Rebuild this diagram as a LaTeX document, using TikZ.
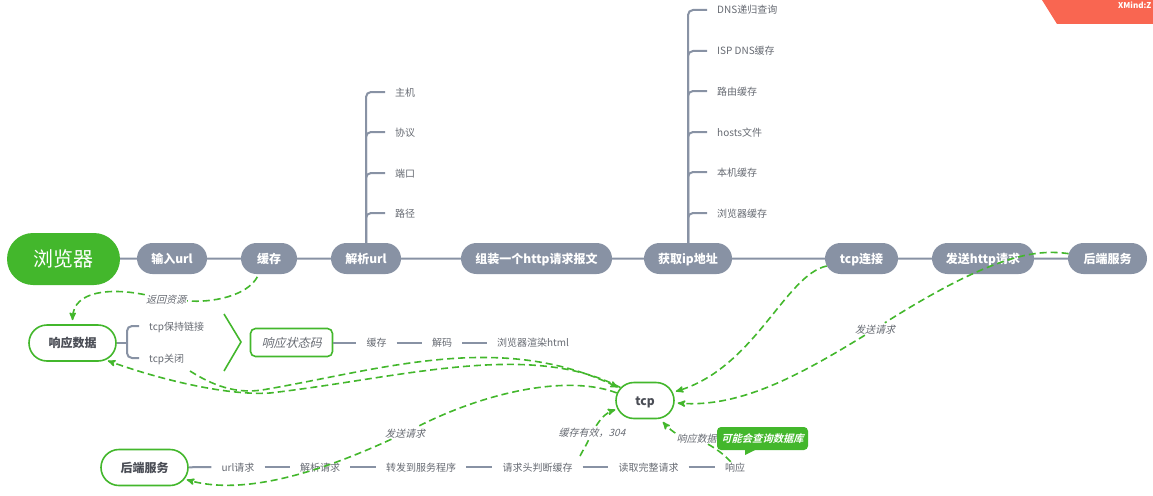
\documentclass[tikz,border=0pt]{standalone}
\usepackage{fontspec}
\setmainfont[AutoFakeSlant=0.25]{Noto Sans CJK SC}
\newfontfamily\notefont[UprightFont=* Bold,FakeSlant=0.25]{Noto Sans CJK SC}
\usetikzlibrary{arrows,positioning,shapes.misc}
\definecolor{leafgreen}{HTML}{43B72C}
\definecolor{slate}{HTML}{8892A4}
\definecolor{inktext}{HTML}{666A72}
\definecolor{darktext}{HTML}{4A4D55}
\definecolor{corner}{HTML}{F96651}
\tikzset{
mapsheet/.style={x=1pt,y=-1pt,>=stealth'},
rootnode/.style={rounded rectangle,fill=leafgreen,text=white,inner sep=0pt,
    minimum width=113pt,minimum height=52pt,font=\fontsize{20}{24}\selectfont},
mainnode/.style={rounded rectangle,fill=slate,text=white,inner sep=0pt,
    minimum height=31pt,text height=9pt,text depth=0pt,font=\bfseries\fontsize{12}{14}\selectfont},
outlined/.style={rounded rectangle,draw=leafgreen,line width=1.6pt,fill=white,text=darktext,
    inner sep=0pt,minimum height=36pt,text height=9pt,text depth=0pt,font=\bfseries\fontsize{12}{14}\selectfont},
statusbox/.style={rectangle,rounded corners=5pt,draw=leafgreen,line width=1.6pt,text=inktext,
    inner sep=0pt,minimum width=82pt,minimum height=28pt,text height=9pt,text depth=0pt,
    font=\itshape\fontsize{12}{14}\selectfont},
leaf/.style={text=inktext,inner xsep=10pt,inner ysep=0pt,text height=9pt,text depth=1pt,
    font=\fontsize{10}{12}\selectfont},
flowtext/.style={text=inktext,inner sep=1pt,text height=9pt,text depth=1pt,
    font=\itshape\fontsize{10}{12}\selectfont},
noteballoon/.style={rectangle,rounded corners=4pt,
    fill=leafgreen,text=white,inner sep=0pt,minimum width=91pt,minimum height=23pt,
    font=\notefont\fontsize{10.3}{12}\selectfont},
stem/.style={draw=slate,line width=2pt},
branch/.style={stem,rounded corners=5pt},
flow/.style={draw=leafgreen,line width=1.6pt,dash pattern=on 7pt off 4pt,shorten >=2pt},
}
\begin{document}
\begin{tikzpicture}[mapsheet]
    \useasboundingbox (0,0) rectangle (1153,495);

    \fill[corner] (1042,0) -- (1057,24) -- (1153,24) -- (1153,0) -- cycle;
    \node[text=white,inner sep=0pt,anchor=west,font=\bfseries\fontsize{8}{10}\selectfont] (brand) at (1118,5) {XMind:Z};

    \node[rootnode] (root) at (63.5,259) {浏览器};
    \node[mainnode,minimum width=70pt] (input) at (172,258.5) {输入url};
    \node[mainnode,minimum width=56pt] (cache) at (269,258.5) {缓存};
    \node[mainnode,minimum width=70pt] (parse) at (366,258.5) {解析url};
    \node[mainnode,minimum width=151pt] (build) at (536.5,258.5) {组装一个http请求报文};
    \node[mainnode,minimum width=88pt] (getip) at (688,258.5) {获取ip地址};
    \node[mainnode,minimum width=73pt] (tcplink) at (861.5,258.5) {tcp连接};
    \node[mainnode,minimum width=102pt] (sendhttp) at (983,258.5) {发送http请求};
    \node[mainnode,minimum width=79pt] (backend) at (1107.5,258.5) {后端服务};

    \node[leaf,anchor=west] (host) at (385,92) {主机};
    \node[leaf,anchor=west] (proto) at (385,132) {协议};
    \node[leaf,anchor=west] (port) at (385,173) {端口};
    \node[leaf,anchor=west] (urlpath) at (385,213) {路径};

    \node[leaf,anchor=west] (dns) at (707,10) {DNS递归查询};
    \node[leaf,anchor=west] (isp) at (707,51) {ISP DNS缓存};
    \node[leaf,anchor=west] (router) at (707,91) {路由缓存};
    \node[leaf,anchor=west] (hosts) at (707,132) {hosts文件};
    \node[leaf,anchor=west] (local) at (707,172) {本机缓存};
    \node[leaf,anchor=west] (browser) at (707,213) {浏览器缓存};

    \node[outlined,minimum width=87pt] (reply) at (72.5,343) {响应数据};
    \coordinate (fork) at (127,343);
    \node[leaf,anchor=west] (keep) at (139,326) {tcp保持链接};
    \node[leaf,anchor=west] (close) at (139,358) {tcp关闭};
    \coordinate (closeout) at (190,371);
    \node[statusbox] (status) at (291.5,342.5) {响应状态码};
    \node[leaf] (store) at (376.5,342.5) {缓存};
    \node[leaf] (decode) at (442,342.5) {解码};
    \node[leaf] (render) at (533,342.5) {浏览器渲染html};

    \node[outlined,minimum width=58pt] (tcp) at (645,400.5) {tcp};

    \node[outlined,minimum width=87pt] (server) at (144.5,467.5) {后端服务};
    \node[leaf] (urlreq) at (238,467) {url请求};
    \node[leaf] (parsereq) at (320,467) {解析请求};
    \node[leaf] (forward) at (421,467) {转发到服务程序};
    \node[leaf] (check) at (537.5,467) {请求头判断缓存};
    \coordinate (checkout) at (580,456);
    \node[leaf] (full) at (648.5,467) {读取完整请求};
    \node[leaf] (answer) at (735,467) {响应};

    \path[stem]
        (root) edge (input)
        (input) edge (cache)
        (cache) edge (parse)
        (parse) edge (build)
        (build) edge (getip)
        (getip) edge (tcplink)
        (tcplink) edge (sendhttp)
        (sendhttp) edge (backend)
        (status) edge (store)
        (store) edge (decode)
        (decode) edge (render)
        (server) edge (urlreq)
        (urlreq) edge (parsereq)
        (parsereq) edge (forward)
        (forward) edge (check)
        (check) edge (full)
        (full) edge (answer)
    ;

    \draw[branch] (parse.north) |- (host.west);
    \draw[branch] (parse.north) |- (proto.west);
    \draw[branch] (parse.north) |- (port.west);
    \draw[branch] (parse.north) |- (urlpath.west);
    \draw[branch] (getip.north) |- (dns.west);
    \draw[branch] (getip.north) |- (isp.west);
    \draw[branch] (getip.north) |- (router.west);
    \draw[branch] (getip.north) |- (hosts.west);
    \draw[branch] (getip.north) |- (local.west);
    \draw[branch] (getip.north) |- (browser.west);
    \draw[stem] (reply.east) -- (fork);
    \draw[branch] (fork) |- (keep.west);
    \draw[branch] (fork) |- (close.west);

    \draw[draw=leafgreen,line width=1.6pt] (224,314) -- (241,342) -- (224,371);

    \node[flowtext] (backlabel) at (166,299) {返回资源};
    \node[flowtext] (sendlabel) at (405,433) {发送请求};
    \node[flowtext] (hitlabel) at (592,432) {缓存有效，304};
    \node[flowtext] (replylabel) at (696.5,438) {响应数据};
    \node[flowtext] (uplabel) at (875,329) {发送请求};

    \draw[flow,shorten <=3pt,shorten >=0pt] (cache.237) .. controls (247,296) and (212,303) .. (backlabel);
    \draw[flow,->,shorten >=4pt] (backlabel) .. controls (112,288) and (73,290) .. (reply.north);

    \draw[flow,->] (closeout) .. controls (212,385) and (235,394) .. (262,390)
        .. controls (380,370) and (500,330) .. (tcp);
    \draw[flow,->] (tcp) .. controls (530,340) and (400,378) .. (270,393)
        .. controls (225,396) and (155,378) .. (reply.-27.5);

    \draw[flow,shorten >=0pt] (tcp.165) .. controls (570,375) and (490,390) .. (sendlabel);
    \draw[flow,->] (sendlabel) .. controls (335,465) and (250,498) .. (server);

    \draw[flow,shorten >=0pt] (checkout) .. controls (583,450) and (586,446) .. (hitlabel);
    \draw[flow,->] (hitlabel) .. controls (600,420) and (605,413) .. (tcp);

    \draw[flow,shorten >=0pt] (answer) .. controls (725,455) and (715,448) .. (replylabel);
    \draw[flow,->,shorten >=4pt] (replylabel) .. controls (675,433) and (668,428) .. (tcp);

    \draw[flow,->,shorten >=3pt] (tcplink) .. controls (785,275) and (755,368) .. (tcp);

    \draw[flow,shorten >=0pt] (backend) .. controls (1040,250) and (1000,250) .. (uplabel);
    \draw[flow,->,shorten >=3pt] (uplabel) .. controls (800,375) and (740,408) .. (tcp);

    \node[noteballoon] (dbnote) at (762.5,438.5) {可能会查询数据库};
    \fill[leafgreen] (745,449) -- (745,455) -- (757,449) -- cycle;
\end{tikzpicture}
\end{document}
